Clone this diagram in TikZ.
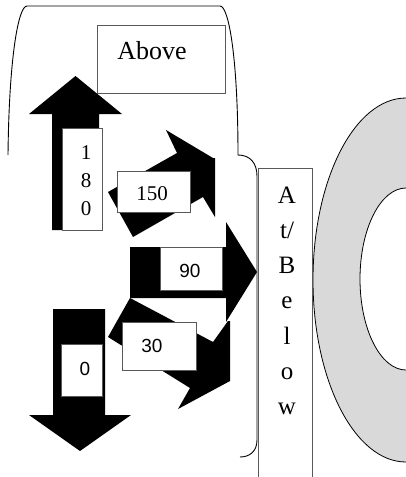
\documentclass[tikz,border=0pt]{standalone}
\usepackage{fontspec}
\setmainfont{Liberation Serif}
\newfontfamily\numfont{Liberation Sans}
\usetikzlibrary{calc}

\begin{document}
\begin{tikzpicture}[x=1pt, y=-1pt,
    box/.style={draw=black!65, fill=white, line width=0.9pt},
    lbl/.style={anchor=base, inner sep=0pt},
    big/.style={font=\fontsize{25}{30}\selectfont},
    mid/.style={font=\fontsize{21}{25}\selectfont},
    sans/.style={font=\numfont\fontsize{19}{23}\selectfont}]

    % Fix the page to the size of the picture
    \useasboundingbox (0,0) rectangle (406,477);
    \clip (0,0) rectangle (406,477);

    % Draw the gray ring at the right edge
    \fill[black!15, even odd rule] (406,280) ellipse [x radius=93pt, y radius=182pt]
        (406,279) ellipse [x radius=46pt, y radius=91pt];
    \draw[line width=0.8pt] (406,280) ellipse [x radius=93pt, y radius=182pt];
    \draw[line width=0.8pt] (406,279) ellipse [x radius=46pt, y radius=91pt];

    % Draw the bracket around the arrows
    \draw[line width=0.9pt] (8,155) .. controls (9,60) and (18,6) .. (27,6) -- (220,6)
        .. controls (229,6) and (238,60) .. (238,155)
        .. controls (250,155) and (257,163) .. (257,176) -- (257,440)
        .. controls (257,451) and (250,457) .. (240,457);

    % Draw the block arrows
    \fill (52,230) -- (52,114) -- (29,114) -- (75.5,76) -- (122,114) -- (99,114) -- (99,230) -- cycle;
    \fill (108,192) -- (177,153) -- (166,130) -- (213,158) -- (215,158) -- (215,217) -- (203,197) -- (133,237) -- cycle;
    \fill (130,247) -- (226,247) -- (226,222) -- (257,272) -- (226,322) -- (226,298) -- (130,298) -- cycle;
    \fill (130,298) -- (213,342) -- (228,321) -- (230,321) -- (230,381) -- (178,409) -- (190,388) -- (108,337) -- cycle;
    \fill (53,309) -- (105,309) -- (105,415) -- (131,415) -- (80,451) -- (29,415) -- (53,415) -- cycle;

    % Draw the boxes
    \draw[box] (97,25) rectangle (225,93);
    \draw[box] (62,128) rectangle (102,230);
    \draw[box] (117,171) rectangle (190,212);
    \draw[box] (160,247) rectangle (222,290);
    \draw[box] (122,322) rectangle (196,370);
    \draw[box] (61,344) rectangle (102,396);
    \draw[box] (258,168) rectangle (312,490);

    % Label the boxes
    \node[lbl, font=\fontsize{26}{30}\selectfont] (above) at (152,59) {Above};
    \foreach \d/\yy [count=\i] in {1/159, 8/187, 0/215}
        \node[lbl, mid] (deg-\i) at (86,\yy) {\d};
    \node[lbl, mid] (deg150) at (152,200.5) {150};
    \node[lbl, sans] (deg90) at (190,277) {90};
    \node[lbl, sans] (deg30) at (152,352.5) {30};
    \node[lbl, sans] (deg0) at (85,375) {0};
    \foreach \ch [count=\i] in {A,{t/},B,e,l,o,w}
        \node[lbl, big] (ab-\i) at (287,{203+35.3*(\i-1)}) {\ch};

\end{tikzpicture}
\end{document}
